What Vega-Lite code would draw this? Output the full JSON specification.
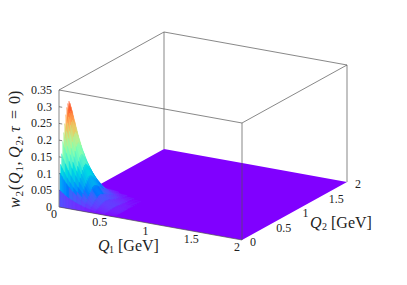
{"$schema":"https://vega.github.io/schema/vega-lite/v6.json","width":407,"height":285,"padding":0,"autosize":{"type":"none"},"background":"white","config":{"view":{"stroke":null}},
"data":{"values":[
{"g":"back","a":0,"b":2,"w":0,"a2":0,"b2":2,"w2":0.35},{"g":"back","a":0,"b":0,"w":0.35,"a2":0,"b2":2,"w2":0.35},{"g":"back","a":0,"b":2,"w":0.35,"a2":2,"b2":2,"w2":0.35},{"g":"back","a":2,"b":2,"w":0,"a2":2,"b2":2,"w2":0.35},
{"g":"back","a":0,"b":0,"w":0.05,"a2":0.035,"b2":0,"w2":0.05},{"g":"back","a":0,"b":0,"w":0.1,"a2":0.035,"b2":0,"w2":0.1},{"g":"back","a":0,"b":0,"w":0.15,"a2":0.035,"b2":0,"w2":0.15},{"g":"back","a":0,"b":0,"w":0.2,"a2":0.035,"b2":0,"w2":0.2},{"g":"back","a":0,"b":0,"w":0.25,"a2":0.035,"b2":0,"w2":0.25},{"g":"back","a":0,"b":0,"w":0.3,"a2":0.035,"b2":0,"w2":0.3},
{"g":"front","a":0,"b":0,"w":0,"a2":0,"b2":0,"w2":0.35},{"g":"front","a":0,"b":0,"w":0.35,"a2":2,"b2":0,"w2":0.35},{"g":"front","a":2,"b":0,"w":0,"a2":2,"b2":0,"w2":0.35},{"g":"front","a":2,"b":0,"w":0.35,"a2":2,"b2":2,"w2":0.35},{"g":"front","a":0,"b":0,"w":0,"a2":2,"b2":0,"w2":0},
{"g":"plane","a":0,"b":0,"w":0,"a2":0,"b2":0,"w2":0},{"g":"plane","a":0,"b":2,"w":0,"a2":1.1475,"b2":0,"w2":0},{"g":"plane","a":0.8525,"b":2,"w":0,"a2":2,"b2":0,"w2":0},{"g":"plane","a":2,"b":2,"w":0,"a2":2,"b2":2,"w2":0},
{"g":"zl","t":"0","a":0,"b":0,"w":0},{"g":"zl","t":"0.05","a":0,"b":0,"w":0.05},{"g":"zl","t":"0.1","a":0,"b":0,"w":0.1},{"g":"zl","t":"0.15","a":0,"b":0,"w":0.15},{"g":"zl","t":"0.2","a":0,"b":0,"w":0.2},{"g":"zl","t":"0.25","a":0,"b":0,"w":0.25},{"g":"zl","t":"0.3","a":0,"b":0,"w":0.3},{"g":"zl","t":"0.35","a":0,"b":0,"w":0.35},
{"g":"al","t":"0","a":0,"b":0,"w":0},{"g":"al","t":"0.5","a":0.5,"b":0,"w":0},{"g":"al","t":"1","a":1,"b":0,"w":0},{"g":"al","t":"1.5","a":1.5,"b":0,"w":0},{"g":"al","t":"2","a":2,"b":0,"w":0},
{"g":"bl","t":"0","a":2,"b":0,"w":0},{"g":"bl","t":"0.5","a":2,"b":0.5,"w":0},{"g":"bl","t":"1","a":2,"b":1,"w":0},{"g":"bl","t":"1.5","a":2,"b":1.5,"w":0},{"g":"bl","t":"2","a":2,"b":2,"w":0},
{"g":"hi","t":"Q","a":0.4262,"b":0,"w":-0.0956},{"g":"hs","t":"1","a":0.5464,"b":0,"w":-0.1017},{"g":"hu","t":"[GeV]","a":0.6448,"b":0,"w":-0.0848},
{"g":"hi","t":"Q","a":2.743,"b":0,"w":0.0875},{"g":"hs","t":"2","a":2.874,"b":0,"w":0.082},{"g":"hu","t":"[GeV]","a":2.973,"b":0,"w":0.0989},
{"g":"vi","t":"w","a":-0.4262,"b":0,"w":-0.024},{"g":"vu","t":"(","a":-0.4262,"b":0,"w":0.0298},{"g":"vi","t":"Q","a":-0.4262,"b":0,"w":0.0478},{"g":"vu","t":",","a":-0.4262,"b":0,"w":0.1031},{"g":"vi","t":"Q","a":-0.4262,"b":0,"w":0.1255},{"g":"vu","t":",","a":-0.4262,"b":0,"w":0.1809},{"g":"vi","t":"τ","a":-0.4262,"b":0,"w":0.2033},{"g":"vu","t":"=","a":-0.4262,"b":0,"w":0.2422},{"g":"vu","t":"0","a":-0.4262,"b":0,"w":0.2871},{"g":"vu","t":")","a":-0.4262,"b":0,"w":0.311},
{"g":"vs","t":"2","a":-0.388,"b":0,"w":0.0123},{"g":"vs","t":"1","a":-0.388,"b":0,"w":0.087},{"g":"vs","t":"2","a":-0.388,"b":0,"w":0.1648},
{"a":0,"b":0.7,"w":0.004},{"a":0.02,"b":0.7,"w":0.004},{"a":0.04,"b":0.7,"w":0.003},{"a":0.07,"b":0.7,"w":0.003},{"a":0.1,"b":0.7,"w":0.002},
{"a":0,"b":0.65,"w":0.012},{"a":0.02,"b":0.65,"w":0.011},{"a":0.04,"b":0.65,"w":0.01},{"a":0.07,"b":0.65,"w":0.008},{"a":0.1,"b":0.65,"w":0.007},{"a":0.14,"b":0.65,"w":0.006},{"a":0.18,"b":0.65,"w":0.005},{"a":0.23,"b":0.65,"w":0.004},{"a":0.28,"b":0.65,"w":0.002},
{"a":0,"b":0.6,"w":0.025},{"a":0.02,"b":0.6,"w":0.023},{"a":0.04,"b":0.6,"w":0.021},{"a":0.07,"b":0.6,"w":0.018},{"a":0.1,"b":0.6,"w":0.015},{"a":0.14,"b":0.6,"w":0.012},{"a":0.18,"b":0.6,"w":0.01},{"a":0.23,"b":0.6,"w":0.008},{"a":0.28,"b":0.6,"w":0.005},{"a":0.34,"b":0.6,"w":0.003},{"a":0.4,"b":0.6,"w":0.002},
{"a":0,"b":0.56,"w":0.038},{"a":0.02,"b":0.56,"w":0.034},{"a":0.04,"b":0.56,"w":0.031},{"a":0.07,"b":0.56,"w":0.027},{"a":0.1,"b":0.56,"w":0.023},{"a":0.14,"b":0.56,"w":0.019},{"a":0.18,"b":0.56,"w":0.015},{"a":0.23,"b":0.56,"w":0.011},{"a":0.28,"b":0.56,"w":0.008},{"a":0.34,"b":0.56,"w":0.005},{"a":0.4,"b":0.56,"w":0.003},{"a":0.5,"b":0.56,"w":0.001},
{"a":0,"b":0.52,"w":0.056},{"a":0.02,"b":0.52,"w":0.051},{"a":0.04,"b":0.52,"w":0.046},{"a":0.07,"b":0.52,"w":0.039},{"a":0.1,"b":0.52,"w":0.034},{"a":0.14,"b":0.52,"w":0.028},{"a":0.18,"b":0.52,"w":0.023},{"a":0.23,"b":0.52,"w":0.017},{"a":0.28,"b":0.52,"w":0.012},{"a":0.34,"b":0.52,"w":0.007},{"a":0.4,"b":0.52,"w":0.004},{"a":0.5,"b":0.52,"w":0.002},{"a":0.6,"b":0.52,"w":0},
{"a":0,"b":0.48,"w":0.085},{"a":0.02,"b":0.48,"w":0.077},{"a":0.04,"b":0.48,"w":0.07},{"a":0.07,"b":0.48,"w":0.06},{"a":0.1,"b":0.48,"w":0.052},{"a":0.14,"b":0.48,"w":0.042},{"a":0.18,"b":0.48,"w":0.035},{"a":0.23,"b":0.48,"w":0.026},{"a":0.28,"b":0.48,"w":0.018},{"a":0.34,"b":0.48,"w":0.011},{"a":0.4,"b":0.48,"w":0.006},{"a":0.5,"b":0.48,"w":0.002},{"a":0.6,"b":0.48,"w":0.001},
{"a":0,"b":0.44,"w":0.118},{"a":0.02,"b":0.44,"w":0.107},{"a":0.04,"b":0.44,"w":0.097},{"a":0.07,"b":0.44,"w":0.083},{"a":0.1,"b":0.44,"w":0.072},{"a":0.14,"b":0.44,"w":0.059},{"a":0.18,"b":0.44,"w":0.048},{"a":0.23,"b":0.44,"w":0.035},{"a":0.28,"b":0.44,"w":0.025},{"a":0.34,"b":0.44,"w":0.015},{"a":0.4,"b":0.44,"w":0.009},{"a":0.5,"b":0.44,"w":0.003},{"a":0.6,"b":0.44,"w":0.001},
{"a":0,"b":0.4,"w":0.148},{"a":0.02,"b":0.4,"w":0.134},{"a":0.04,"b":0.4,"w":0.121},{"a":0.07,"b":0.4,"w":0.104},{"a":0.1,"b":0.4,"w":0.09},{"a":0.14,"b":0.4,"w":0.074},{"a":0.18,"b":0.4,"w":0.06},{"a":0.23,"b":0.4,"w":0.044},{"a":0.28,"b":0.4,"w":0.031},{"a":0.34,"b":0.4,"w":0.019},{"a":0.4,"b":0.4,"w":0.011},{"a":0.5,"b":0.4,"w":0.004},{"a":0.6,"b":0.4,"w":0.001},
{"a":0,"b":0.36,"w":0.177},{"a":0.02,"b":0.36,"w":0.16},{"a":0.04,"b":0.36,"w":0.145},{"a":0.07,"b":0.36,"w":0.125},{"a":0.1,"b":0.36,"w":0.107},{"a":0.14,"b":0.36,"w":0.088},{"a":0.18,"b":0.36,"w":0.072},{"a":0.23,"b":0.36,"w":0.053},{"a":0.28,"b":0.36,"w":0.037},{"a":0.34,"b":0.36,"w":0.023},{"a":0.4,"b":0.36,"w":0.013},{"a":0.5,"b":0.36,"w":0.005},{"a":0.6,"b":0.36,"w":0.001},
{"a":0,"b":0.33,"w":0.202},{"a":0.02,"b":0.33,"w":0.183},{"a":0.04,"b":0.33,"w":0.166},{"a":0.07,"b":0.33,"w":0.142},{"a":0.1,"b":0.33,"w":0.123},{"a":0.14,"b":0.33,"w":0.1},{"a":0.18,"b":0.33,"w":0.082},{"a":0.23,"b":0.33,"w":0.061},{"a":0.28,"b":0.33,"w":0.042},{"a":0.34,"b":0.33,"w":0.026},{"a":0.4,"b":0.33,"w":0.015},{"a":0.5,"b":0.33,"w":0.006},{"a":0.6,"b":0.33,"w":0.002},
{"a":0,"b":0.3,"w":0.23},{"a":0.02,"b":0.3,"w":0.208},{"a":0.04,"b":0.3,"w":0.189},{"a":0.07,"b":0.3,"w":0.162},{"a":0.1,"b":0.3,"w":0.14},{"a":0.14,"b":0.3,"w":0.114},{"a":0.18,"b":0.3,"w":0.094},{"a":0.23,"b":0.3,"w":0.069},{"a":0.28,"b":0.3,"w":0.048},{"a":0.34,"b":0.3,"w":0.03},{"a":0.4,"b":0.3,"w":0.017},{"a":0.5,"b":0.3,"w":0.006},{"a":0.6,"b":0.3,"w":0.002},
{"a":0,"b":0.27,"w":0.25},{"a":0.02,"b":0.27,"w":0.226},{"a":0.04,"b":0.27,"w":0.205},{"a":0.07,"b":0.27,"w":0.176},{"a":0.1,"b":0.27,"w":0.152},{"a":0.14,"b":0.27,"w":0.124},{"a":0.18,"b":0.27,"w":0.102},{"a":0.23,"b":0.27,"w":0.075},{"a":0.28,"b":0.27,"w":0.053},{"a":0.34,"b":0.27,"w":0.033},{"a":0.4,"b":0.27,"w":0.019},{"a":0.5,"b":0.27,"w":0.007},{"a":0.6,"b":0.27,"w":0.002},
{"a":0,"b":0.25,"w":0.267},{"a":0.02,"b":0.25,"w":0.242},{"a":0.04,"b":0.25,"w":0.219},{"a":0.07,"b":0.25,"w":0.188},{"a":0.1,"b":0.25,"w":0.162},{"a":0.14,"b":0.25,"w":0.133},{"a":0.18,"b":0.25,"w":0.109},{"a":0.23,"b":0.25,"w":0.08},{"a":0.28,"b":0.25,"w":0.056},{"a":0.34,"b":0.25,"w":0.035},{"a":0.4,"b":0.25,"w":0.02},{"a":0.5,"b":0.25,"w":0.007},{"a":0.6,"b":0.25,"w":0.002},
{"a":0,"b":0.23,"w":0.28},{"a":0.02,"b":0.23,"w":0.253},{"a":0.04,"b":0.23,"w":0.23},{"a":0.07,"b":0.23,"w":0.197},{"a":0.1,"b":0.23,"w":0.17},{"a":0.14,"b":0.23,"w":0.139},{"a":0.18,"b":0.23,"w":0.114},{"a":0.23,"b":0.23,"w":0.084},{"a":0.28,"b":0.23,"w":0.059},{"a":0.34,"b":0.23,"w":0.036},{"a":0.4,"b":0.23,"w":0.021},{"a":0.5,"b":0.23,"w":0.008},{"a":0.6,"b":0.23,"w":0.002},
{"a":0,"b":0.21,"w":0.292},{"a":0.02,"b":0.21,"w":0.264},{"a":0.04,"b":0.21,"w":0.239},{"a":0.07,"b":0.21,"w":0.206},{"a":0.1,"b":0.21,"w":0.177},{"a":0.14,"b":0.21,"w":0.145},{"a":0.18,"b":0.21,"w":0.119},{"a":0.23,"b":0.21,"w":0.088},{"a":0.28,"b":0.21,"w":0.061},{"a":0.34,"b":0.21,"w":0.038},{"a":0.4,"b":0.21,"w":0.022},{"a":0.5,"b":0.21,"w":0.008},{"a":0.6,"b":0.21,"w":0.002},
{"a":0,"b":0.19,"w":0.3},{"a":0.02,"b":0.19,"w":0.272},{"a":0.04,"b":0.19,"w":0.246},{"a":0.07,"b":0.19,"w":0.212},{"a":0.1,"b":0.19,"w":0.182},{"a":0.14,"b":0.19,"w":0.149},{"a":0.18,"b":0.19,"w":0.122},{"a":0.23,"b":0.19,"w":0.09},{"a":0.28,"b":0.19,"w":0.063},{"a":0.34,"b":0.19,"w":0.039},{"a":0.4,"b":0.19,"w":0.023},{"a":0.5,"b":0.19,"w":0.008},{"a":0.6,"b":0.19,"w":0.002},
{"a":0,"b":0.17,"w":0.295},{"a":0.02,"b":0.17,"w":0.267},{"a":0.04,"b":0.17,"w":0.242},{"a":0.07,"b":0.17,"w":0.208},{"a":0.1,"b":0.17,"w":0.179},{"a":0.14,"b":0.17,"w":0.147},{"a":0.18,"b":0.17,"w":0.12},{"a":0.23,"b":0.17,"w":0.089},{"a":0.28,"b":0.17,"w":0.062},{"a":0.34,"b":0.17,"w":0.038},{"a":0.4,"b":0.17,"w":0.022},{"a":0.5,"b":0.17,"w":0.008},{"a":0.6,"b":0.17,"w":0.002},
{"a":0,"b":0.15,"w":0.285},{"a":0.02,"b":0.15,"w":0.258},{"a":0.04,"b":0.15,"w":0.234},{"a":0.07,"b":0.15,"w":0.201},{"a":0.1,"b":0.15,"w":0.173},{"a":0.14,"b":0.15,"w":0.142},{"a":0.18,"b":0.15,"w":0.116},{"a":0.23,"b":0.15,"w":0.086},{"a":0.28,"b":0.15,"w":0.06},{"a":0.34,"b":0.15,"w":0.037},{"a":0.4,"b":0.15,"w":0.021},{"a":0.5,"b":0.15,"w":0.008},{"a":0.6,"b":0.15,"w":0.002},
{"a":0,"b":0.13,"w":0.265},{"a":0.02,"b":0.13,"w":0.24},{"a":0.04,"b":0.13,"w":0.217},{"a":0.07,"b":0.13,"w":0.187},{"a":0.1,"b":0.13,"w":0.161},{"a":0.14,"b":0.13,"w":0.132},{"a":0.18,"b":0.13,"w":0.108},{"a":0.23,"b":0.13,"w":0.08},{"a":0.28,"b":0.13,"w":0.056},{"a":0.34,"b":0.13,"w":0.034},{"a":0.4,"b":0.13,"w":0.02},{"a":0.5,"b":0.13,"w":0.007},{"a":0.6,"b":0.13,"w":0.002},
{"a":0,"b":0.11,"w":0.24},{"a":0.02,"b":0.11,"w":0.217},{"a":0.04,"b":0.11,"w":0.197},{"a":0.07,"b":0.11,"w":0.169},{"a":0.1,"b":0.11,"w":0.146},{"a":0.14,"b":0.11,"w":0.119},{"a":0.18,"b":0.11,"w":0.098},{"a":0.23,"b":0.11,"w":0.072},{"a":0.28,"b":0.11,"w":0.05},{"a":0.34,"b":0.11,"w":0.031},{"a":0.4,"b":0.11,"w":0.018},{"a":0.5,"b":0.11,"w":0.007},{"a":0.6,"b":0.11,"w":0.002},
{"a":0,"b":0.09,"w":0.215},{"a":0.02,"b":0.09,"w":0.195},{"a":0.04,"b":0.09,"w":0.176},{"a":0.07,"b":0.09,"w":0.152},{"a":0.1,"b":0.09,"w":0.131},{"a":0.14,"b":0.09,"w":0.107},{"a":0.18,"b":0.09,"w":0.088},{"a":0.23,"b":0.09,"w":0.065},{"a":0.28,"b":0.09,"w":0.045},{"a":0.34,"b":0.09,"w":0.028},{"a":0.4,"b":0.09,"w":0.016},{"a":0.5,"b":0.09,"w":0.006},{"a":0.6,"b":0.09,"w":0.002},
{"a":0,"b":0.07,"w":0.19},{"a":0.02,"b":0.07,"w":0.172},{"a":0.04,"b":0.07,"w":0.156},{"a":0.07,"b":0.07,"w":0.134},{"a":0.1,"b":0.07,"w":0.115},{"a":0.14,"b":0.07,"w":0.094},{"a":0.18,"b":0.07,"w":0.077},{"a":0.23,"b":0.07,"w":0.057},{"a":0.28,"b":0.07,"w":0.04},{"a":0.34,"b":0.07,"w":0.025},{"a":0.4,"b":0.07,"w":0.014},{"a":0.5,"b":0.07,"w":0.005},{"a":0.6,"b":0.07,"w":0.002},
{"a":0,"b":0.05,"w":0.155},{"a":0.02,"b":0.05,"w":0.14},{"a":0.04,"b":0.05,"w":0.127},{"a":0.07,"b":0.05,"w":0.109},{"a":0.1,"b":0.05,"w":0.094},{"a":0.14,"b":0.05,"w":0.077},{"a":0.18,"b":0.05,"w":0.063},{"a":0.23,"b":0.05,"w":0.047},{"a":0.28,"b":0.05,"w":0.033},{"a":0.34,"b":0.05,"w":0.02},{"a":0.4,"b":0.05,"w":0.012},{"a":0.5,"b":0.05,"w":0.004},{"a":0.6,"b":0.05,"w":0.001},
{"a":0,"b":0.03,"w":0.125},{"a":0.02,"b":0.03,"w":0.113},{"a":0.04,"b":0.03,"w":0.103},{"a":0.07,"b":0.03,"w":0.088},{"a":0.1,"b":0.03,"w":0.076},{"a":0.14,"b":0.03,"w":0.062},{"a":0.18,"b":0.03,"w":0.051},{"a":0.23,"b":0.03,"w":0.038},{"a":0.28,"b":0.03,"w":0.026},{"a":0.34,"b":0.03,"w":0.016},{"a":0.4,"b":0.03,"w":0.009},{"a":0.5,"b":0.03,"w":0.004},{"a":0.6,"b":0.03,"w":0.001},
{"a":0,"b":0.02,"w":0.1},{"a":0.02,"b":0.02,"w":0.091},{"a":0.04,"b":0.02,"w":0.082},{"a":0.07,"b":0.02,"w":0.071},{"a":0.1,"b":0.02,"w":0.061},{"a":0.14,"b":0.02,"w":0.05},{"a":0.18,"b":0.02,"w":0.041},{"a":0.23,"b":0.02,"w":0.03},{"a":0.28,"b":0.02,"w":0.021},{"a":0.34,"b":0.02,"w":0.013},{"a":0.4,"b":0.02,"w":0.008},{"a":0.5,"b":0.02,"w":0.003},{"a":0.6,"b":0.02,"w":0.001},
{"a":0,"b":0.01,"w":0.05},{"a":0.02,"b":0.01,"w":0.045},{"a":0.04,"b":0.01,"w":0.041},{"a":0.07,"b":0.01,"w":0.035},{"a":0.1,"b":0.01,"w":0.03},{"a":0.14,"b":0.01,"w":0.025},{"a":0.18,"b":0.01,"w":0.02},{"a":0.23,"b":0.01,"w":0.015},{"a":0.28,"b":0.01,"w":0.011},{"a":0.34,"b":0.01,"w":0.007},{"a":0.4,"b":0.01,"w":0.004},{"a":0.5,"b":0.01,"w":0.001},{"a":0.6,"b":0.01,"w":0}
]},
"transform":[
{"calculate":"91.5*datum.a+52.5*datum.b","as":"sx"},
{"calculate":"-16.5*datum.a+29*datum.b+334.3*datum.w","as":"sy"},
{"calculate":"91.5*datum.a2+52.5*datum.b2","as":"sx2"},
{"calculate":"-16.5*datum.a2+29*datum.b2+334.3*datum.w2","as":"sy2"},
{"calculate":"-16.5*datum.a+29*datum.b","as":"by"}
],
"encoding":{"x":{"field":"sx","type":"quantitative","axis":null,"scale":{"domain":[-59,348],"range":[0,407],"nice":false,"zero":false}},"y":{"field":"sy","type":"quantitative","axis":null,"scale":{"domain":[-78,207],"range":[285,0],"nice":false,"zero":false}}},
"layer":[
{"transform":[{"filter":"datum.g=='back'"}],"mark":{"type":"rule","color":"#555555","strokeWidth":0.7},"encoding":{"x2":{"field":"sx2"},"y2":{"field":"sy2"}}},
{"transform":[{"filter":"datum.g=='plane'"}],"mark":{"type":"area","color":"#8000ff","orient":"vertical"},"encoding":{"y2":{"field":"sy2"}}},
{"transform":[{"filter":"!datum.g"},
{"window":[{"op":"lag","field":"w","as":"lw"}],"groupby":["a"],"sort":[{"field":"b","order":"ascending"}]},
{"calculate":"datum.lw||0","as":"fw"},
{"window":[{"op":"lead","field":"sx","as":"nx"},{"op":"lead","field":"sy","as":"ny"},{"op":"lead","field":"by","as":"nb"},{"op":"lead","field":"w","as":"nw"},{"op":"lead","field":"fw","as":"nf"}],"groupby":["b"],"sort":[{"field":"a","order":"ascending"}]},
{"filter":"datum.nx!=null"},
{"calculate":"(datum.w+datum.nw+datum.fw+datum.nf)/4","as":"wm"},
{"calculate":"datum.b+'_'+datum.a","as":"cell"},
{"calculate":"[datum.sx,datum.nx]","as":"px"},
{"calculate":"[datum.sy,datum.ny]","as":"py"},
{"calculate":"[datum.by,datum.nb]","as":"pb"},
{"flatten":["px","py","pb"]}],
"mark":{"type":"area","orient":"vertical","strokeWidth":0.5,"opacity":1},
"encoding":{"x":{"field":"px","type":"quantitative"},"y":{"field":"py","type":"quantitative"},"y2":{"field":"pb"},"detail":{"field":"cell"},
"fill":{"field":"wm","type":"quantitative","legend":null,"scale":{"domain":[0,0.04,0.08,0.12,0.16,0.2,0.24,0.28,0.32],"range":["#8000ff","#4062fa","#00b4ec","#40ecd4","#80ffb4","#c0ec8e","#ffb462","#ff6232","#ff0000"]}},
"stroke":{"field":"wm","type":"quantitative","legend":null,"scale":{"domain":[0,0.04,0.08,0.12,0.16,0.2,0.24,0.28,0.32],"range":["#8000ff","#4062fa","#00b4ec","#40ecd4","#80ffb4","#c0ec8e","#ffb462","#ff6232","#ff0000"]}}}},
{"transform":[{"filter":"datum.g=='front'"}],"mark":{"type":"rule","color":"#555555","strokeWidth":0.7},"encoding":{"x2":{"field":"sx2"},"y2":{"field":"sy2"}}},
{"transform":[{"filter":"datum.g=='zl'"}],"mark":{"type":"text","font":"Liberation Serif","fontSize":12,"color":"#222222","align":"right","baseline":"middle","dx":-7},"encoding":{"text":{"field":"t"}}},
{"transform":[{"filter":"datum.g=='al'"}],"mark":{"type":"text","font":"Liberation Serif","fontSize":12,"color":"#222222","align":"center","baseline":"middle","dx":-5,"dy":7},"encoding":{"text":{"field":"t"}}},
{"transform":[{"filter":"datum.g=='bl'"}],"mark":{"type":"text","font":"Liberation Serif","fontSize":12,"color":"#222222","align":"left","baseline":"middle","dx":8,"dy":2},"encoding":{"text":{"field":"t"}}},
{"transform":[{"filter":"datum.g=='hi'"}],"mark":{"type":"text","font":"Liberation Serif","fontSize":16,"fontStyle":"italic","color":"#222222","align":"left","baseline":"middle"},"encoding":{"text":{"field":"t"}}},
{"transform":[{"filter":"datum.g=='hu'"}],"mark":{"type":"text","font":"Liberation Serif","fontSize":16,"color":"#222222","align":"left","baseline":"middle"},"encoding":{"text":{"field":"t"}}},
{"transform":[{"filter":"datum.g=='hs'"}],"mark":{"type":"text","font":"Liberation Serif","fontSize":10,"color":"#222222","align":"left","baseline":"middle"},"encoding":{"text":{"field":"t"}}},
{"transform":[{"filter":"datum.g=='vi'"}],"mark":{"type":"text","font":"Liberation Serif","fontSize":16,"fontStyle":"italic","color":"#222222","align":"left","baseline":"alphabetic","angle":270},"encoding":{"text":{"field":"t"}}},
{"transform":[{"filter":"datum.g=='vu'"}],"mark":{"type":"text","font":"Liberation Serif","fontSize":16,"color":"#222222","align":"left","baseline":"alphabetic","angle":270},"encoding":{"text":{"field":"t"}}},
{"transform":[{"filter":"datum.g=='vs'"}],"mark":{"type":"text","font":"Liberation Serif","fontSize":11,"color":"#222222","align":"left","baseline":"alphabetic","angle":270},"encoding":{"text":{"field":"t"}}}
]}
